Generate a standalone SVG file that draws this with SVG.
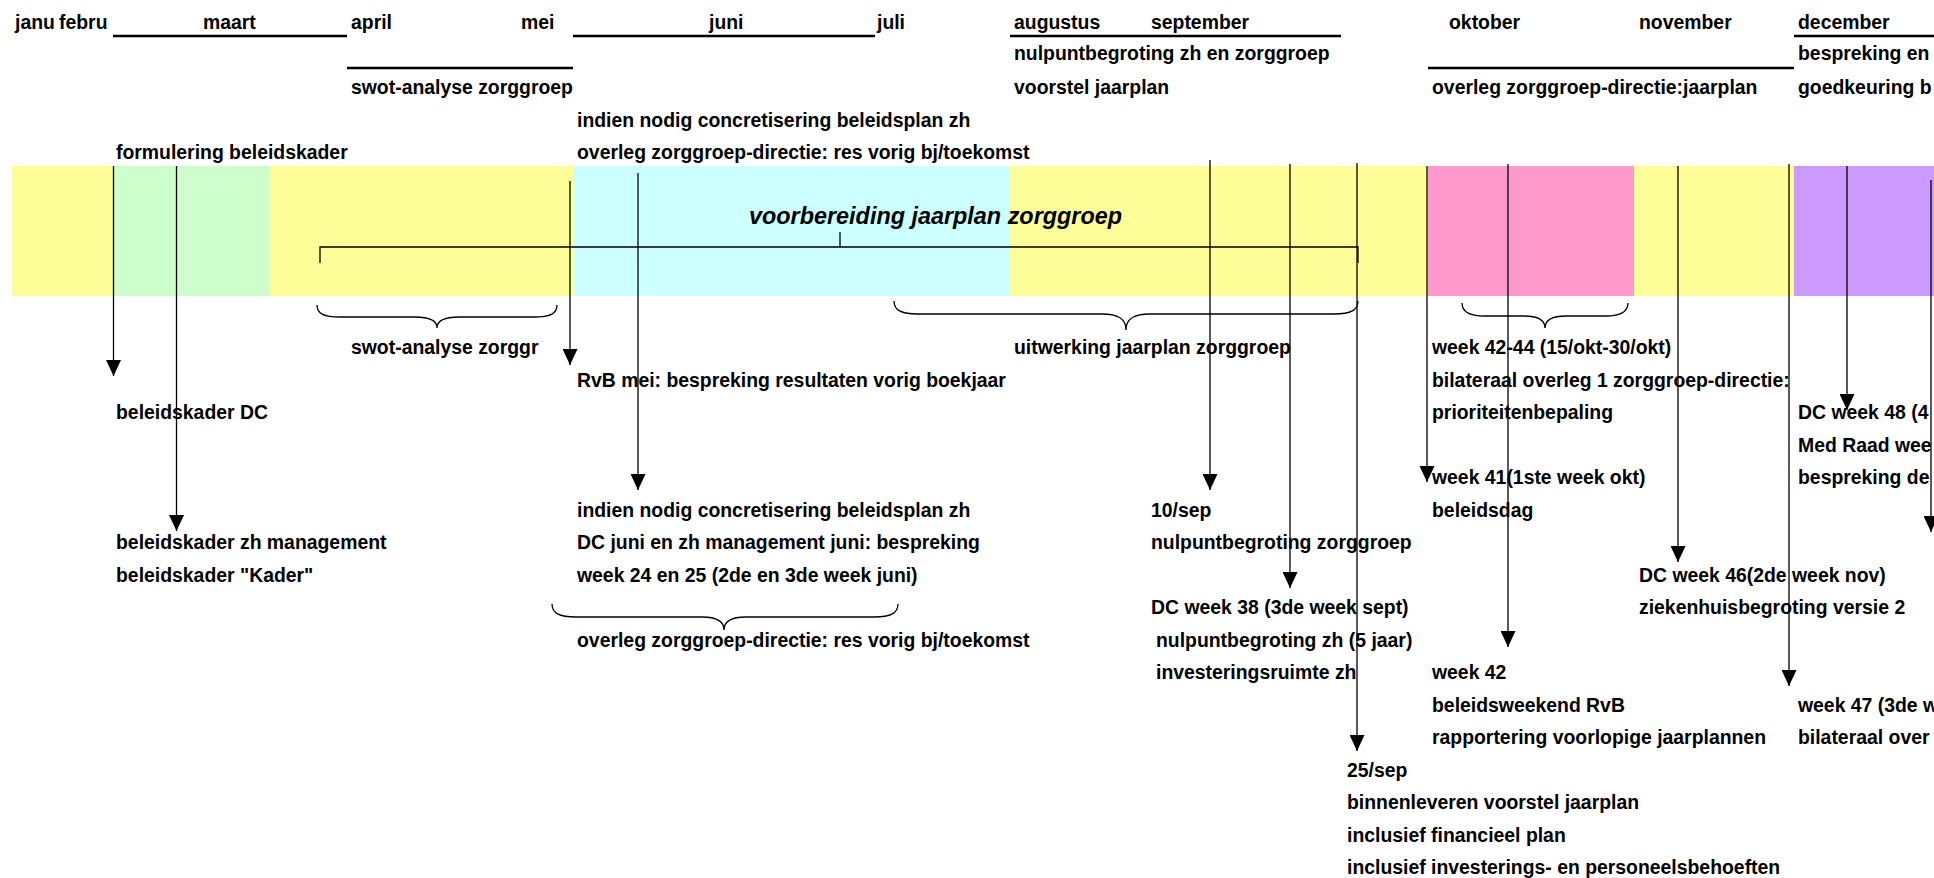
<svg xmlns="http://www.w3.org/2000/svg" width="1934" height="878" viewBox="0 0 1934 878">
  <style>
    .t { font-family: "Liberation Sans", Arial, sans-serif; font-weight: bold; font-size: 19.4px; fill: #000; }
    .title { font-family: "Liberation Sans", Arial, sans-serif; font-weight: bold; font-style: italic; font-size: 23.4px; fill: #000; }
    .rule { stroke: #000; stroke-width: 2.6; fill: none; }
    .thin { stroke: #000; stroke-width: 1.3; fill: none; }
    .arrow { stroke: #000; stroke-width: 1.3; fill: none; marker-end: url(#head); }
  </style>
  <defs>
    <marker id="head" markerUnits="userSpaceOnUse" markerWidth="16" markerHeight="15" refX="16" refY="7.5" orient="auto">
      <path d="M0,0 L16,7.5 L0,15 Z" fill="#000"/>
    </marker>
  </defs>

  <rect width="1934" height="878" fill="#fff"/>

  <!-- phase band -->
  <g id="band">
    <rect x="12" y="166" width="101" height="130" fill="#FFFF99"/>
    <rect x="113" y="166" width="157" height="130" fill="#CCFFCC"/>
    <rect x="270" y="166" width="303" height="130" fill="#FFFF99"/>
    <rect x="573" y="166" width="437" height="130" fill="#CCFFFF"/>
    <rect x="1010" y="166" width="418" height="130" fill="#FFFF99"/>
    <rect x="1428" y="166" width="206" height="130" fill="#FF99CC"/>
    <rect x="1634" y="166" width="160" height="130" fill="#FFFF99"/>
    <rect x="1794" y="166" width="140" height="130" fill="#CC99FF"/>
  </g>

  <!-- month header -->
  <g id="months">
    <text class="t" x="15" y="29">janu</text>
    <text class="t" x="59" y="29">febru</text>
    <text class="t" x="203" y="29">maart</text>
    <text class="t" x="351" y="29">april</text>
    <text class="t" x="521" y="29">mei</text>
    <text class="t" x="709" y="29">juni</text>
    <text class="t" x="877" y="29">juli</text>
    <text class="t" x="1014" y="29">augustus</text>
    <text class="t" x="1151" y="29">september</text>
    <text class="t" x="1449" y="29">oktober</text>
    <text class="t" x="1639" y="29">november</text>
    <text class="t" x="1798" y="29">december</text>
  </g>

  <!-- period underlines -->
  <g id="periods">
    <line class="rule" x1="113" y1="36" x2="347" y2="36"/>
    <line class="rule" x1="573" y1="36" x2="875" y2="36"/>
    <line class="rule" x1="1010" y1="36" x2="1341" y2="36"/>
    <line class="rule" x1="1794" y1="36" x2="1934" y2="36"/>
    <line class="rule" x1="347" y1="68" x2="573" y2="68"/>
    <line class="rule" x1="1428" y1="68" x2="1794" y2="68"/>
  </g>

  <!-- activities above the band -->
  <g id="top-nulpunt">
    <text class="t" x="1014" y="60">nulpuntbegroting zh en zorggroep</text>
    <text class="t" x="1014" y="94">voorstel jaarplan</text>
  </g>
  <g id="top-december">
    <text class="t" x="1798" y="60">bespreking en</text>
    <text class="t" x="1798" y="94">goedkeuring b</text>
  </g>
  <g id="top-swot"><text class="t" x="351" y="94">swot-analyse zorggroep</text></g>
  <g id="top-jaarplan"><text class="t" x="1432" y="94">overleg zorggroep-directie:jaarplan</text></g>
  <g id="top-juni">
    <text class="t" x="577" y="127">indien nodig concretisering beleidsplan zh</text>
    <text class="t" x="577" y="159">overleg zorggroep-directie: res vorig bj/toekomst</text>
  </g>
  <g id="top-beleidskader"><text class="t" x="116" y="159">formulering beleidskader</text></g>

  <g id="title"><text class="title" x="749" y="224">voorbereiding jaarplan zorggroep</text></g>

  <!-- connectors: bracket, braces and milestone arrows -->
  <g id="connectors">
    <path class="thin" d="M320,263 L320,247 L1358,247 L1358,263 M840,247 L840,232"/>
    <path class="thin" d="M317,305 C317,314 324,317 340,317 L415,317 C428,317 437,320 437,328 C437,320 446,317 459,317 L534,317 C550,317 557,314 557,305"/>
    <path class="thin" d="M894,301 C894,310 901,314 918,314 L1102,314 C1117,314 1126,318 1126,330 C1126,318 1135,314 1150,314 L1334,314 C1351,314 1358,310 1358,301"/>
    <path class="thin" d="M1462,303 C1462,312 1469,316 1484,316 L1524,316 C1537,316 1545,319 1545,328 C1545,319 1553,316 1566,316 L1606,316 C1621,316 1628,312 1628,303"/>
    <path class="thin" d="M552,604 C552,613 559,617 576,617 L702,617 C715,617 724,620 724,630 C724,620 733,617 746,617 L874,617 C891,617 898,613 898,604"/>

    <line class="arrow" x1="113.5" y1="166" x2="113.5" y2="376"/>
    <line class="arrow" x1="176.5" y1="166" x2="176.5" y2="531"/>
    <line class="arrow" x1="570" y1="181" x2="570" y2="365"/>
    <line class="arrow" x1="638" y1="173" x2="638" y2="490"/>
    <line class="arrow" x1="1210" y1="160" x2="1210" y2="490"/>
    <line class="arrow" x1="1290" y1="164" x2="1290" y2="588"/>
    <line class="arrow" x1="1357" y1="163" x2="1357" y2="751"/>
    <line class="arrow" x1="1427" y1="166" x2="1427" y2="482"/>
    <line class="arrow" x1="1508" y1="164" x2="1508" y2="647"/>
    <line class="arrow" x1="1678" y1="166" x2="1678" y2="562"/>
    <line class="arrow" x1="1789" y1="164" x2="1789" y2="686"/>
    <line class="arrow" x1="1847" y1="166" x2="1847" y2="410"/>
    <line class="arrow" x1="1931" y1="180" x2="1931" y2="532"/>
  </g>

  <!-- activities below the band -->
  <g id="swot"><text class="t" x="351" y="354">swot-analyse zorggr</text></g>
  <g id="uitwerking"><text class="t" x="1014" y="354">uitwerking jaarplan zorggroep</text></g>
  <g id="bilateraal-okt">
    <text class="t" x="1432" y="354">week 42-44 (15/okt-30/okt)</text>
    <text class="t" x="1432" y="386.5">bilateraal overleg 1 zorggroep-directie:</text>
    <text class="t" x="1432" y="419">prioriteitenbepaling</text>
  </g>
  <g id="rvb-mei"><text class="t" x="577" y="386.5">RvB mei: bespreking resultaten vorig boekjaar</text></g>
  <g id="beleidskader-dc"><text class="t" x="116" y="419">beleidskader DC</text></g>
  <g id="dc-week48">
    <text class="t" x="1798" y="419">DC week 48 (4</text>
    <text class="t" x="1798" y="451.5">Med Raad wee</text>
    <text class="t" x="1798" y="484">bespreking de</text>
  </g>
  <g id="beleidsdag">
    <text class="t" x="1432" y="484">week 41(1ste week okt)</text>
    <text class="t" x="1432" y="516.5">beleidsdag</text>
  </g>
  <g id="dc-juni">
    <text class="t" x="577" y="516.5">indien nodig concretisering beleidsplan zh</text>
    <text class="t" x="577" y="549">DC juni en zh management juni: bespreking</text>
    <text class="t" x="577" y="581.5">week 24 en 25 (2de en 3de week juni)</text>
  </g>
  <g id="nulpunt-sep">
    <text class="t" x="1151" y="516.5">10/sep</text>
    <text class="t" x="1151" y="549">nulpuntbegroting zorggroep</text>
  </g>
  <g id="beleidskader-zh">
    <text class="t" x="116" y="549">beleidskader zh management</text>
    <text class="t" x="116" y="581.5">beleidskader "Kader"</text>
  </g>
  <g id="dc-week46">
    <text class="t" x="1639" y="581.5">DC week 46(2de week nov)</text>
    <text class="t" x="1639" y="614">ziekenhuisbegroting versie 2</text>
  </g>
  <g id="dc-week38">
    <text class="t" x="1151" y="614">DC week 38 (3de week sept)</text>
    <text class="t" x="1156" y="646.5">nulpuntbegroting zh (5 jaar)</text>
    <text class="t" x="1156" y="679">investeringsruimte zh</text>
  </g>
  <g id="overleg-juni"><text class="t" x="577" y="646.5">overleg zorggroep-directie: res vorig bj/toekomst</text></g>
  <g id="beleidsweekend">
    <text class="t" x="1432" y="679">week 42</text>
    <text class="t" x="1432" y="711.5">beleidsweekend RvB</text>
    <text class="t" x="1432" y="744">rapportering voorlopige jaarplannen</text>
  </g>
  <g id="week47">
    <text class="t" x="1798" y="711.5">week 47 (3de w</text>
    <text class="t" x="1798" y="744">bilateraal over</text>
  </g>
  <g id="binnenleveren">
    <text class="t" x="1347" y="776.5">25/sep</text>
    <text class="t" x="1347" y="809">binnenleveren voorstel jaarplan</text>
    <text class="t" x="1347" y="841.5">inclusief financieel plan</text>
    <text class="t" x="1347" y="874">inclusief investerings- en personeelsbehoeften</text>
  </g>
</svg>
